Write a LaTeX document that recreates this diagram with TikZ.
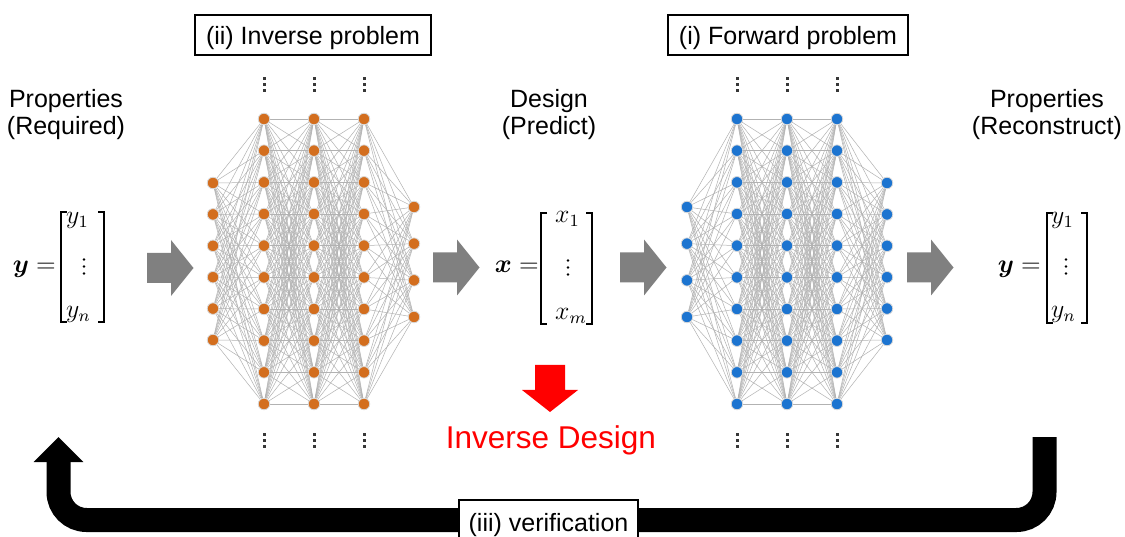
\documentclass[tikz,border=0pt]{standalone}
\usepackage{amsmath}
\usepackage{graphicx}
\usepackage{fontspec}
\setmainfont{Liberation Sans}
\usetikzlibrary{backgrounds,arrows.meta}
\definecolor{nodeorange}{RGB}{211,110,30}
\definecolor{nodeblue}{RGB}{28,116,208}
\definecolor{arrowgray}{RGB}{128,128,128}
\definecolor{edgegray}{RGB}{178,178,178}
\definecolor{dotgray}{RGB}{55,55,55}
\newcommand{\bigmath}[1]{\scalebox{2.15}{$#1$}}
\tikzset{
  blockarrow/.pic={\fill[arrowgray] (0,-15) -- (24,-15) -- (24,-28) -- (46.5,0)
     -- (24,28) -- (24,15) -- (0,15) -- cycle;}
}
\begin{document}
\begin{tikzpicture}[x=1pt,y=-1pt,
  neuron/.style={circle,inner sep=0pt,minimum size=11.5pt,draw=black!15,line width=0.8pt},
  onode/.style={neuron,fill=nodeorange},
  bnode/.style={neuron,fill=nodeblue},
  wire/.style={draw=edgegray,line width=0.5pt},
  caption/.style={font=\fontsize{25}{27}\selectfont,align=center,inner sep=0pt},
  titlebox/.style={draw,line width=1.6pt,inner sep=0pt,minimum height=40pt,
     font=\fontsize{25}{27}\selectfont,text height=22pt,text depth=2pt},
  mathlbl/.style={inner sep=0pt,font=\fontsize{12}{14}\selectfont},
  bracket/.style={line width=1.2pt},
  vdot/.style={fill=black},
]
\useasboundingbox (0,0) rectangle (1125,537);

% ---------- inverse network (orange) ----------
\foreach \x/\n/\ya/\yb [count=\l] in {213/6/183/340,264/10/119/404,314/10/119/404,364/10/119/404,414/4/207/317}{
  \foreach \k in {1,...,\n}{
    \node[onode] (L\l-\k) at (\x,{\ya+(\k-1)*(\yb-\ya)/(\n-1)}) {};
  }
}
% ---------- forward network (blue) ----------
\foreach \x/\n/\ya/\yb [count=\l] in {687/4/207/317,737/10/119/404,787/10/119/404,837/10/119/404,887/6/183/340}{
  \foreach \k in {1,...,\n}{
    \node[bnode] (R\l-\k) at (\x,{\ya+(\k-1)*(\yb-\ya)/(\n-1)}) {};
  }
}

\begin{scope}[on background layer]
  \fill[white] (0,0) rectangle (1125,537);
  \foreach \a/\na/\b/\nb in {1/6/2/10,2/10/3/10,3/10/4/10,4/10/5/4}{
    \foreach \i in {1,...,\na}{
      \foreach \j in {1,...,\nb}{
        \draw[wire] (L\a-\i) -- (L\b-\j);
      }}}
  \foreach \a/\na/\b/\nb in {1/4/2/10,2/10/3/10,3/10/4/10,4/10/5/6}{
    \foreach \i in {1,...,\na}{
      \foreach \j in {1,...,\nb}{
        \draw[wire] (R\a-\i) -- (R\b-\j);
      }}}
\end{scope}

% hidden layers continue above and below
\foreach \x in {264,314,364,737,787,837}{
  \foreach \y in {79,85,91,434,440,446}{
    \fill[dotgray] (\x-1.5,\y-1.5) rectangle (\x+1.5,\y+1.5);
  }
}

% ---------- titles ----------
\node[titlebox,minimum width=236pt] (invbox) at (313,35) {(ii) Inverse problem};
\node[titlebox,minimum width=240pt] (fwdbox) at (788,35) {(i) Forward problem};

\node[caption,anchor=north] (reqlbl) at (66,89.5) {Properties\\(Required)};
\node[caption,anchor=north] (deslbl) at (549,89.5) {Design\\(Predict)};
\node[caption,anchor=north] (reclbl) at (1047,89.5) {Properties\\(Reconstruct)};

% ---------- vectors ----------
% required properties
\node[mathlbl,anchor=base east] (yeq) at (56,273) {\bigmath{\boldsymbol{y}=}};
\draw[bracket] (67,212) -- (61,212) -- (61,322) -- (67,322);
\draw[bracket] (98,212) -- (104,212) -- (104,322) -- (98,322);
\node[mathlbl,anchor=base west] (yone) at (66,224) {\bigmath{y_1}};
\node[mathlbl,anchor=base west] (yn) at (66,318) {\bigmath{y_n}};
\foreach \y in {259.5,266.5,273.5} \fill[vdot] (84,\y) circle (1.4pt);

% predicted design
\node[mathlbl,anchor=base east] (xeq) at (539,273) {\bigmath{\boldsymbol{x}=}};
\draw[bracket] (547,213) -- (541,213) -- (541,324) -- (547,324);
\draw[bracket] (586,213) -- (592,213) -- (592,324) -- (586,324);
\node[mathlbl,anchor=base west] (xone) at (555,223) {\bigmath{x_1}};
\node[mathlbl,anchor=base west] (xm) at (555,320) {\bigmath{x_m}};
\foreach \y in {260.5,267.5,274.5} \fill[vdot] (568,\y) circle (1.4pt);

% reconstructed properties
\node[mathlbl,anchor=base east] (yreq) at (1041,273) {\bigmath{\boldsymbol{y}=}};
\draw[bracket] (1053,213) -- (1047,213) -- (1047,323) -- (1053,323);
\draw[bracket] (1081,213) -- (1087,213) -- (1087,323) -- (1081,323);
\node[mathlbl,anchor=base west] (yrone) at (1051,224) {\bigmath{y_1}};
\node[mathlbl,anchor=base west] (yrn) at (1051,318) {\bigmath{y_n}};
\foreach \y in {259.5,266.5,273.5} \fill[vdot] (1066,\y) circle (1.4pt);

% ---------- flow arrows ----------
\pic at (147,268) {blockarrow};
\pic at (433,267.5) {blockarrow};
\pic at (620,267.5) {blockarrow};
\pic at (907,267.5) {blockarrow};

\fill[red] (535,365) -- (565,365) -- (565,390) -- (578,390) -- (550,412)
  -- (522,390) -- (535,390) -- cycle;
\node[font=\fontsize{31.5}{34}\selectfont,text=red,inner sep=0pt] (invdesign) at (551,440) {Inverse Design};

% ---------- verification loop ----------
\coordinate (loopstart) at (1044.5,437);
\coordinate (loopmid) at (548,520);
\coordinate (looptip) at (58.5,437);
\draw[line width=24pt,rounded corners=28pt,-{Triangle[width=48pt,length=25pt]}]
  (loopstart) |- (loopmid) -| (looptip);
\node[draw,line width=1.6pt,fill=white,minimum width=179pt,minimum height=50pt,
  inner sep=0pt,font=\fontsize{25}{27}\selectfont] (verif) at (548.5,525) {(iii) verification};
\end{tikzpicture}
\end{document}
